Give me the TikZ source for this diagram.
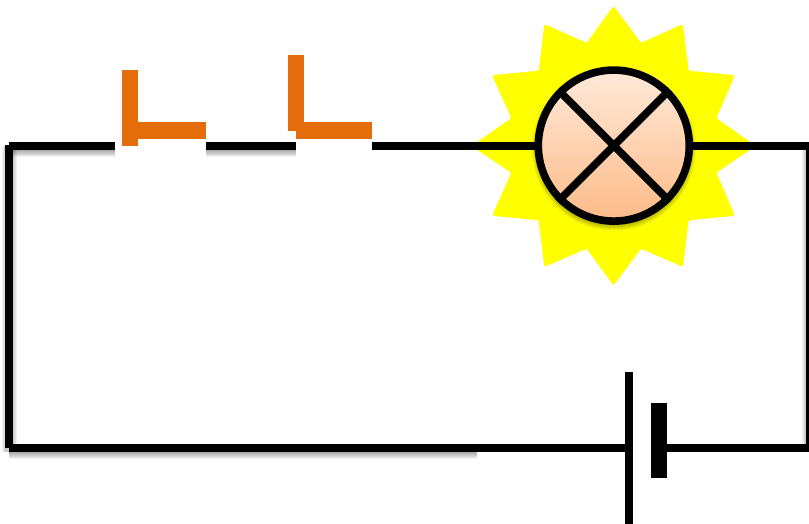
\documentclass[tikz,border=0pt]{standalone}
\usetikzlibrary{calc}
\definecolor{swor}{HTML}{E46C0A}
\definecolor{lamptop}{HTML}{FFE9D9}
\definecolor{lampbot}{HTML}{FDBB88}
\definecolor{burst}{RGB}{255,255,0}
\tikzset{
  wire/.style={draw=black,line width=8pt,line cap=butt},
  switcharm/.style={draw=none,fill=swor},
  plate/.style={draw=none,fill=black},
  wireshadow/.style={line width=#1,draw=black,draw opacity=0.055,line cap=butt},
  lampnode/.style={circle,draw=black,line width=7.6pt,minimum size=151pt,inner sep=0pt,
    top color=lamptop,bottom color=lampbot},
  cross/.style={draw=black,line width=7.6pt,line cap=butt},
  rays/.style={fill=burst,draw=burst,line width=0.6pt,line join=round}
}
\newcommand{\softshadow}[2]{%
  \foreach \w in {1,3,...,13}{\draw[wireshadow=\w pt] ($#1+(0,4.5)$) -- ($#2+(0,4.5)$);}}
\begin{document}
\begin{tikzpicture}[x=1pt,y=-1pt]
\useasboundingbox (0,0) rectangle (809,524);
\clip (0,0) rectangle (809,524);
% junction points
\coordinate (tl) at (9,145.6);
\coordinate (bl) at (9,448);
\coordinate (vt) at (9,145);
\coordinate (a1) at (115,145.6);
\coordinate (b1) at (206,145.6);
\coordinate (a2) at (296,145.6);
\coordinate (b2) at (372,145.6);
\coordinate (tr) at (810,145.6);
\coordinate (br) at (810,448);
\coordinate (shadowend) at (477,448);
\coordinate (battL) at (629,448);
\coordinate (battR) at (659,448);
% shadows
\softshadow{(tl)}{(a1)}
\softshadow{(b1)}{(a2)}
\softshadow{(bl)}{(shadowend)}
\foreach \w in {9,11,13,15}{\draw[wireshadow=\w pt] (9,146) -- (9,452);}
\foreach \w in {1,3,...,9}{\draw[wireshadow=\w pt] (806,150) -- (806,444);}
% yellow burst
\draw[rays,rounded corners=1.5pt]
  (613.5,6.5) -- (641,43.3) -- (682.7,24.5) -- (688.3,71) -- (734.5,75.5) -- (716,118.3)
  -- (755,146) -- (716,172.7) -- (734.5,215.5) -- (688.3,220) -- (682.7,266.5) -- (641,248.3)
  -- (613.5,285) -- (586.7,248.3) -- (544.5,266.5) -- (539,220) -- (492.5,215.5) -- (511.7,172.7)
  -- (472,146) -- (511.7,118.3) -- (492.5,75.5) -- (539,71) -- (544.5,24.5) -- (586.7,43.3) -- cycle;
% lamp shadow
\foreach \r in {76,77,...,82}{\fill[black,fill opacity=0.05] (613.8,148.5) circle (\r pt);}
% lamp
\node[lampnode] (lamp) at (613.8,145.6) {};
\draw[cross] (lamp.45) -- (lamp.225);
\draw[cross] (lamp.135) -- (lamp.315);
% wires
\draw[wire] (b2) -- (lamp.west);
\draw[wire] (lamp.east) -- (tr);
\draw[wire] (tl) -- (a1);
\draw[wire] (b1) -- (a2);
\draw[wire] (vt) -- (bl);
\draw[wire] (bl) -- (battL);
\draw[wire] (battR) -- (br);
\draw[wire] (tr) -- (br);
% switches
\fill[switcharm] (122,70) rectangle (138,146);
\fill[switcharm] (138,122.4) rectangle (206,138.6);
\fill[switcharm] (288.3,55) rectangle (304.3,130.7);
\fill[switcharm] (296.3,122.4) rectangle (372,138.6);
% battery
\fill[plate] (625,372.3) rectangle (633,523.5);
\fill[plate] (651.3,402.7) rectangle (667.3,478.3);
\end{tikzpicture}
\end{document}
